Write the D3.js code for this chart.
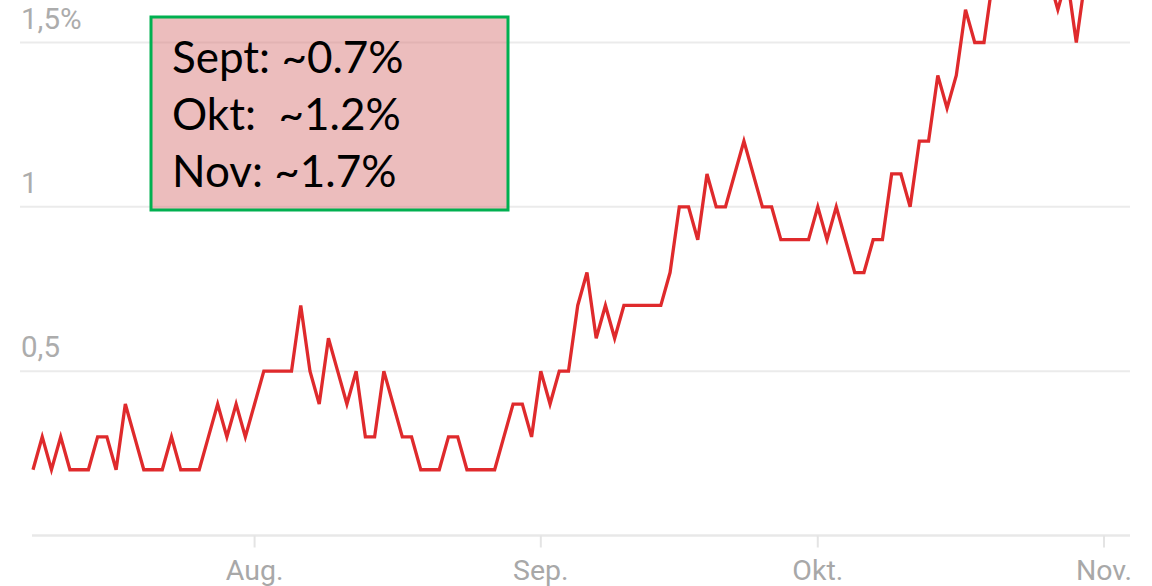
<!DOCTYPE html>
<html>
<head>
<meta charset="utf-8">
<script src="https://cdn.jsdelivr.net/npm/d3@7"></script>
<style>
  html, body { margin: 0; padding: 0; background: #fff; overflow: hidden; }
  svg { display: block; }
</style>
</head>
<body>
<svg id="chart" width="1152" height="586"></svg>
<script>
// ---- data ----
const startDate = "2020-07-08";
const values = [
  0.2,0.3,0.2,0.3,0.2,0.2,0.2,0.3,0.3,0.2,0.4,0.3,0.2,0.2,0.2,0.3,0.2,0.2,0.2,0.3,0.4,0.3,0.4,0.3, // Jul 8 - Jul 31
  0.4,0.5,0.5,0.5,0.5,0.7,0.5,0.4,0.6,0.5,0.4,0.5,0.3,0.3,0.5,0.4,0.3,0.3,0.2,0.2,0.2,0.3,0.3,0.2,0.2,0.2,0.2,0.3,0.4,0.4,0.3, // Aug
  0.5,0.4,0.5,0.5,0.7,0.8,0.6,0.7,0.6,0.7,0.7,0.7,0.7,0.7,0.8,1.0,1.0,0.9,1.1,1.0,1.0,1.1,1.2,1.1,1.0,1.0,0.9,0.9,0.9,0.9, // Sep
  1.0,0.9,1.0,0.9,0.8,0.8,0.9,0.9,1.1,1.1,1.0,1.2,1.2,1.4,1.3,1.4,1.6,1.5,1.5,1.7,1.8,1.7,1.8,1.9,1.8,1.7,1.6,1.7,1.5,1.7 // Oct 1 - Oct 30
];
const monthTicks = ["2020-08-01","2020-09-01","2020-10-01","2020-11-01"];
const monthLabels = ["Aug.","Sep.","Okt.","Nov."];
const yTicks = [0.5, 1, 1.5];
const yLabels = ["0,5", "1", "1,5%"];
const noteLines = ["Sept: ~0.7%", "Okt:  ~1.2%", "Nov: ~1.7%"];

// ---- build ----
const parse = d3.timeParse("%Y-%m-%d");
const start = parse(startDate);
const series = values.map((v, i) => ({ date: d3.timeDay.offset(start, i), value: v }));

const svg = d3.select("#chart");
const x = d3.scaleTime()
  .domain([parse("2020-07-08"), parse("2020-11-01")])
  .range([33, 1104]);
const y = d3.scaleLinear().domain([0, 1.5]).range([535.5, 42.5]);

// gridlines
svg.append("g").selectAll("line").data(yTicks).join("line")
  .attr("x1", 20).attr("x2", 1130)
  .attr("y1", d => y(d)).attr("y2", d => y(d))
  .attr("stroke", "#ebebeb").attr("stroke-width", 2);

// baseline
svg.append("line")
  .attr("x1", 32).attr("x2", 1130)
  .attr("y1", y(0)).attr("y2", y(0))
  .attr("stroke", "#e8e8e8").attr("stroke-width", 2.5);

// month ticks
const mt = monthTicks.map(parse);
svg.append("g").selectAll("line").data(mt).join("line")
  .attr("x1", d => x(d)).attr("x2", d => x(d))
  .attr("y1", y(0)).attr("y2", y(0) + 12)
  .attr("stroke", "#e4e4e4").attr("stroke-width", 2);

// month labels
svg.append("g").selectAll("text").data(mt).join("text")
  .attr("x", d => x(d)).attr("y", 580)
  .attr("text-anchor", "middle")
  .attr("font-family", "Roboto, 'Liberation Sans', Arial, sans-serif")
  .attr("font-size", 28.5)
  .attr("fill", "#a8a8a8")
  .text((d, i) => monthLabels[i]);

// y labels
svg.append("g").selectAll("text").data(yTicks).join("text")
  .attr("x", 21).attr("y", d => y(d) - 14)
  .attr("font-family", "Roboto, 'Liberation Sans', Arial, sans-serif")
  .attr("font-size", 29.5)
  .attr("fill", "#acacac")
  .text((d, i) => yLabels[i]);

// line
const line = d3.line().x(d => x(d.date)).y(d => y(d.value));
svg.append("path").datum(series)
  .attr("d", line)
  .attr("fill", "none")
  .attr("stroke", "#df2a2c")
  .attr("stroke-width", 3.3)
  .attr("stroke-linejoin", "miter");

// annotation box
const note = svg.append("g");
note.append("rect")
  .attr("x", 151).attr("y", 17).attr("width", 357).attr("height", 193)
  .attr("fill", "rgb(217,123,123)").attr("fill-opacity", 0.5)
  .attr("stroke", "#00b050").attr("stroke-width", 3);
note.selectAll("text").data(noteLines).join("text")
  .attr("x", 172).attr("y", (d, i) => 72.5 + i * 57)
  .attr("font-family", "Lato, 'Open Sans', sans-serif")
  .attr("font-size", 44)
  .attr("fill", "#000")
  .style("white-space", "pre")
  .text(d => d);
</script>
</body>
</html>
